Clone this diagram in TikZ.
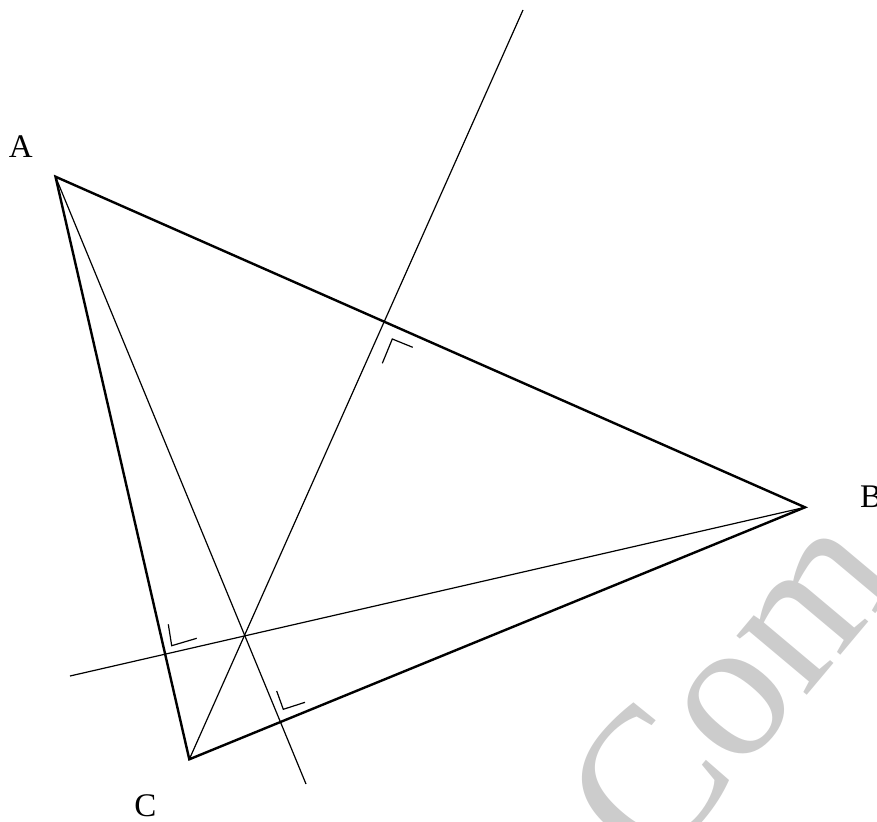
\documentclass[tikz,border=0pt]{standalone}
\usepackage{fontspec}
\setmainfont{Liberation Serif}
\begin{document}
\begin{tikzpicture}[x=1pt,y=-1pt,
  side/.style={line width=2.4pt, line join=miter},
  alt/.style={line width=1.2pt},
  rmark/.style={line width=1.2pt},
  vlabel/.style={inner sep=0pt, font=\fontsize{33}{40}\selectfont},
  wmark/.style={inner sep=0pt, text=black!20, font=\fontsize{200}{220}\selectfont}]
\useasboundingbox (0,0) rectangle (877,821);
\clip (0,0) rectangle (877,821);
% watermark
\node[wmark, anchor=base west, rotate=50] (wm) at (654,877) {Com};
% vertices
\coordinate (A) at (55.5,176.7);
\coordinate (B) at (805,507.3);
\coordinate (C) at (189.3,759.3);
\coordinate (H) at (244,635);
% altitude ends
\coordinate (endC) at (523,10);
\coordinate (endA) at (306,784);
\coordinate (endB) at (70,676);
% altitudes
\draw[alt] (C) -- (endC);
\draw[alt] (A) -- (endA);
\draw[alt] (B) -- (endB);
% triangle
\draw[side] (A) -- (B) -- (C) -- cycle;
% right-angle marks
\draw[rmark] (382.3,363.3) -- (392.3,339) -- (412.7,347.3);
\draw[rmark] (168.3,624.3) -- (171.7,645.7) -- (196.7,638.3);
\draw[rmark] (276.7,691) -- (283.3,709.3) -- (305,702.3);
% labels
\node[vlabel, anchor=base] (lA) at (20.8,158) {A};
\node[vlabel, anchor=base west] (lB) at (860,507) {B};
\node[vlabel, anchor=base] (lC) at (145.5,816) {C};
\end{tikzpicture}
\end{document}
